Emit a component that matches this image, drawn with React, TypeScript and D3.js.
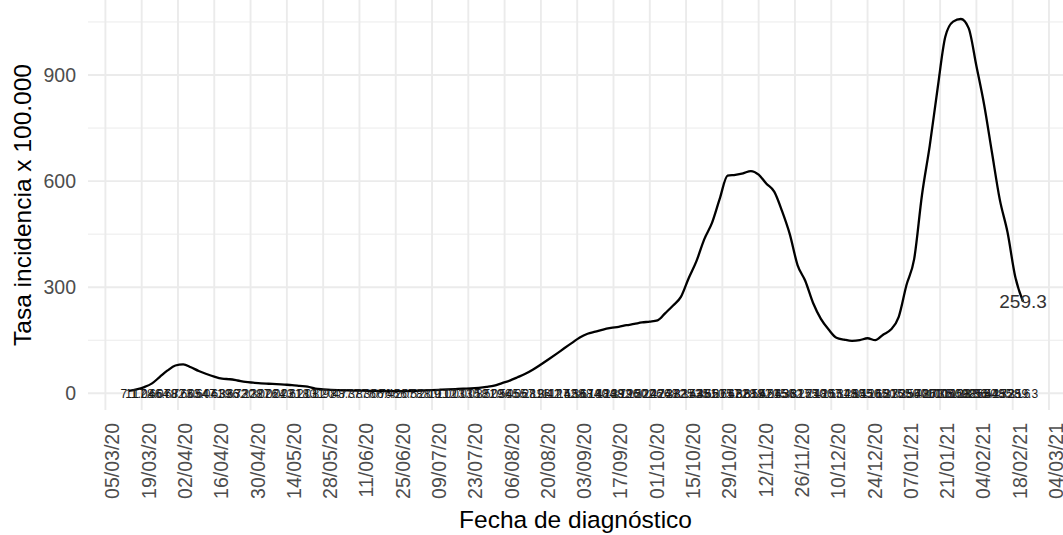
import React from "react";
import * as d3 from "d3";

// ---- data ----
const tickLabels = [
  "05/03/20","19/03/20","02/04/20","16/04/20","30/04/20","14/05/20","28/05/20",
  "11/06/20","25/06/20","09/07/20","23/07/20","06/08/20","20/08/20","03/09/20",
  "17/09/20","01/10/20","15/10/20","29/10/20","12/11/20","26/11/20","10/12/20",
  "24/12/20","07/01/21","21/01/21","04/02/21","18/02/21","04/03/21",
];
const yTicks = [0, 300, 600, 900];
const yMinorTicks = [150, 450, 750, 1050];

// series sampled every 3 days, starting 14/03/20, ending 22/02/21
const seriesStart = "14/03/20";
const seriesStepDays = 3;
const incidence = [
  7.1, 11.0, 17.6, 28.0, 46.6, 64.7, 78.6, 82.0, 73.6, 63.0,
  54.6, 47.3, 41.6, 39.7, 36.2, 32.3, 30.0, 28.0, 27.0, 26.0,
  24.6, 23.2, 21.0, 18.8, 13.2, 11.0, 9.4, 8.7, 8.3, 7.8,
  7.3, 7.0, 6.7, 6.4, 6.2, 6.0, 6.5, 7.2, 8.0, 8.9,
  10.0, 11.0, 12.0, 13.0, 13.8, 15.5, 18.0, 21.5, 29.0, 36.0,
  45.2, 55.1, 67.3, 81.4, 96.2, 111.5, 127.3, 142.6, 158.1, 168.4,
  174.2, 180.3, 184.7, 188.1, 192.5, 196.2, 200.4, 202.7, 206.3, 226.8,
  248.1, 272.5, 325.3, 373.6, 435.2, 481.7, 550.4, 615.3, 617.8, 622.1,
  628.4, 618.2, 592.6, 570.3, 515.8, 450.1, 362.7, 317.4, 255.2, 210.6,
  180.3, 157.2, 151.8, 148.4, 150.2, 155.6, 150.3, 165.7, 180.2, 215.5,
  305.4, 380.2, 560.7, 700.3, 860.5, 1008.2, 1050.8, 1058.3, 1032.6, 925.4,
  815.2, 680.7, 548.3, 455.1, 328.6, 259.3,
];
const xTitle = "Fecha de diagnóstico";
const yTitle = "Tasa incidencia x 100.000";

const parse = d3.utcParse("%d/%m/%y");

export default function App() {
  const W = 1063, H = 535;
  const panel = { left: 88, right: 1063, top: 0, bottom: 410 };
  const tickDates = tickLabels.map((t) => parse(t) as Date);
  const x = d3
    .scaleUtc()
    .domain([tickDates[0], tickDates[tickDates.length - 1]])
    .range([105.4, 1049]);
  const y = d3.scaleLinear().domain([0, 900]).range([393.3, 75]);

  const start = parse(seriesStart) as Date;
  const data = incidence.map((v, i) => ({
    date: d3.utcDay.offset(start, i * seriesStepDays),
    value: v,
  }));
  const line = d3
    .line<{ date: Date; value: number }>()
    .x((d) => x(d.date))
    .y((d) => y(d.value))
    .curve(d3.curveMonotoneX);
  const last = data[data.length - 1];
  const font = "'Liberation Sans', Arial, Helvetica, sans-serif";

  return (
    <svg
      width={W}
      height={H}
      style={{ position: "absolute", left: 0, top: 0, background: "#fff" }}
      fontFamily={font}
    >
      <rect x={0} y={0} width={W} height={H} fill="#fff" />
      {/* grid */}
      {yMinorTicks.map((t) => (
        <line key={"ym" + t} x1={panel.left} x2={panel.right} y1={y(t)} y2={y(t)} stroke="#EBEBEB" strokeWidth={1} />
      ))}
      {yTicks.map((t) => (
        <line key={"y" + t} x1={panel.left} x2={panel.right} y1={y(t)} y2={y(t)} stroke="#EBEBEB" strokeWidth={1.9} />
      ))}
      {tickDates.map((d, i) => (
        <line key={"x" + i} x1={x(d)} x2={x(d)} y1={panel.top} y2={panel.bottom} stroke="#EBEBEB" strokeWidth={1.9} />
      ))}
      {/* line */}
      <path d={line(data) || ""} fill="none" stroke="#000" strokeWidth={2.3} strokeLinejoin="round" />
      {/* labels at y = 0 */}
      {data.map((d, i) => (
        <text key={"l" + i} x={x(d.date)} y={y(0)} dy="0.36em" textAnchor="middle" fontSize={12} fill="#1a1a1a">
          {d.value.toFixed(1)}
        </text>
      ))}
      {/* last value label */}
      <text x={x(last.date)} y={y(last.value)} dy="0.36em" textAnchor="middle" fontSize={19} fill="#333">
        {last.value.toFixed(1)}
      </text>
      {/* y axis labels */}
      {yTicks.map((t) => (
        <text key={"yl" + t} x={76} y={y(t)} dy="0.36em" textAnchor="end" fontSize={19.5} fill="#4D4D4D">
          {t}
        </text>
      ))}
      {/* x axis labels */}
      {tickDates.map((d, i) => (
        <text
          key={"xl" + i}
          transform={`translate(${x(d) + 14},423) rotate(-90)`}
          textAnchor="end"
          fontSize={19.5}
          fill="#4D4D4D"
        >
          {tickLabels[i]}
        </text>
      ))}
      {/* titles */}
      <text x={(panel.left + panel.right) / 2} y={528} textAnchor="middle" fontSize={24.5} fill="#000">
        {xTitle}
      </text>
      <text transform={`translate(31,${(panel.top + panel.bottom) / 2}) rotate(-90)`} textAnchor="middle" fontSize={24.5} fill="#000">
        {yTitle}
      </text>
    </svg>
  );
}
